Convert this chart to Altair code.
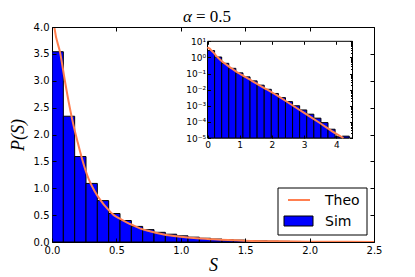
import altair as alt
import pandas as pd

# ---------------- data ----------------
main_bin_width = 0.088
main_hist = [3.54, 2.34, 1.59, 1.09, 0.77, 0.53, 0.40, 0.29, 0.23, 0.18,
             0.145, 0.115, 0.09, 0.07, 0.055, 0.044, 0.035, 0.027, 0.021, 0.016,
             0.013, 0.010, 0.008, 0.006, 0.005, 0.004, 0.003, 0.0025]

inset_bin_width = 0.22
inset_hist = [2.65, 1.06, 0.43, 0.21, 0.11, 0.062, 0.035, 0.019, 0.0105, 0.0058,
              0.0032, 0.0018, 0.001, 0.00055, 0.0003, 0.00017, 0.00009, 0.000035,
              0.000012, 0.000013]

theo_S = [0.0, 0.02, 0.065, 0.1, 0.13, 0.155, 0.2, 0.233, 0.285, 0.33, 0.376,
          0.43, 0.48, 0.53, 0.583, 0.64, 0.687, 0.76, 0.85, 0.92, 1.0, 1.1,
          1.25, 1.5, 1.75, 2.0, 2.5, 3.0, 3.5, 4.0, 4.22]
theo_P = [4.4, 3.97, 3.5, 3.0, 2.6, 2.3, 1.85, 1.55, 1.17, 0.95, 0.78,
          0.62, 0.5, 0.43, 0.36, 0.3, 0.25, 0.2, 0.15, 0.12, 0.097, 0.073,
          0.05, 0.025, 0.013, 0.0068, 0.0016, 0.00036, 0.000082, 0.000018, 0.00001]

legend_labels = ["Theo", "Sim"]
main_x_ticks = [0.0, 0.5, 1.0, 1.5, 2.0, 2.5]
main_y_ticks = [0.0, 0.5, 1.0, 1.5, 2.0, 2.5, 3.0, 3.5, 4.0]
inset_x_ticks = [0, 1, 2, 3, 4]
inset_y_ticks = [1e1, 1e0, 1e-1, 1e-2, 1e-3, 1e-4, 1e-5]
inset_y_minor = [k * 10.0 ** e for e in range(-5, 1) for k in range(2, 10)]
title_symbol = "α"
title_rest = "= 0.5"

# ---------------- tables ----------------
main_df = pd.DataFrame({
    "x0": [i * main_bin_width for i in range(len(main_hist))],
    "x1": [(i + 1) * main_bin_width for i in range(len(main_hist))],
    "p": main_hist,
})
inset_df = pd.DataFrame({
    "x0": [i * inset_bin_width for i in range(len(inset_hist))],
    "x1": [(i + 1) * inset_bin_width for i in range(len(inset_hist))],
    "p": inset_hist,
})
theo_df = pd.DataFrame({"S": theo_S, "P": theo_P})
legend_df = pd.DataFrame({"label": legend_labels})
one_df = pd.DataFrame({"a": [0]})
title_a_df = pd.DataFrame({"t": [title_symbol]})
title_b_df = pd.DataFrame({"t": [title_rest]})

# ---------------- geometry ----------------
W, H = 322, 215
T = 4     # main tick length (inward)
TI = 3    # inset tick length
IN_L, IN_R, IN_T, IN_B = 155.5, 300.5, 14.3, 111.0

BLUE = "#0000ff"
CORAL = "#ff7f50"
SERIF = "Liberation Serif"

xs_main = alt.Scale(domain=[0, 2.5], nice=False, zero=False)
ys_main = alt.Scale(domain=[0, 4], nice=False, zero=False)
xs_in = alt.Scale(domain=[0, 4.5], range=[IN_L, IN_R], nice=False, zero=False)
ys_in = alt.Scale(type="log", domain=[1e-5, 10], range=[IN_B, IN_T], nice=False)

common = dict(domain=False, grid=False, zindex=1, tickColor="black",
              labelColor="black", labelFont="DejaVu Sans",
              labelFlush=False, labelOverlap=False, labelBound=False)

ax_main_bottom = alt.Axis(orient="bottom", offset=-T, tickSize=T, values=main_x_ticks,
                          format=".1f", labelFontSize=10, labelPadding=3,
                          title="S", titleFont=SERIF, titleFontStyle="italic",
                          titleFontWeight="normal", titleFontSize=18, titlePadding=1,
                          titleColor="black", **common)
ax_main_left = alt.Axis(orient="left", offset=-T, tickSize=T, values=main_y_ticks,
                        format=".1f", labelFontSize=10, labelPadding=3,
                        title="P(S)", titleFont=SERIF, titleFontStyle="italic",
                        titleFontWeight="normal", titleFontSize=18, titlePadding=6,
                        titleColor="black", **common)
ax_main_top = alt.Axis(orient="top", offset=-T, tickSize=T, values=main_x_ticks,
                       labels=False, title=None, **common)
ax_main_right = alt.Axis(orient="right", offset=-T, tickSize=T, values=main_y_ticks,
                         labels=False, title=None, **common)

exp_labels = "['10\u207b\u2075','10\u207b\u2074','10\u207b\u00b3','10\u207b\u00b2','10\u207b\u00b9','10\u2070','10\u00b9'][round(log(datum.value)/LN10)+5]"

ax_in_bottom = alt.Axis(orient="bottom", offset=IN_B - H - TI, tickSize=TI,
                        values=inset_x_ticks, format="d", labelFontSize=9,
                        labelPadding=2, title=None, **common)
ax_in_left = alt.Axis(orient="left", offset=-(IN_L + TI), tickSize=TI,
                      values=inset_y_ticks, labelExpr=exp_labels, labelFontSize=9,
                      labelPadding=2, title=None, **common)
ax_in_top = alt.Axis(orient="top", offset=-(IN_T + TI), tickSize=TI,
                     values=inset_x_ticks, labels=False, title=None, **common)
ax_in_right = alt.Axis(orient="right", offset=IN_R - W - TI, tickSize=TI,
                       values=inset_y_ticks, labels=False, title=None, **common)
ax_in_right_minor = alt.Axis(orient="right", offset=IN_R - W - 2, tickSize=2,
                             values=inset_y_minor, labels=False, title=None, **common)

# ---------------- main plot ----------------
main_bars = alt.Chart(main_df).mark_rect(fill=BLUE, stroke="black", strokeWidth=1, clip=True).encode(
    x=alt.X("x0:Q", scale=xs_main, axis=ax_main_bottom),
    x2="x1:Q",
    y=alt.Y("p:Q", scale=ys_main, axis=ax_main_left),
    y2=alt.datum(0),
)
main_line = alt.Chart(theo_df).mark_line(color=CORAL, strokeWidth=2, clip=True, interpolate="monotone").encode(
    x=alt.X("S:Q", scale=xs_main, axis=ax_main_top),
    y=alt.Y("P:Q", scale=ys_main, axis=ax_main_right),
)

# ---------------- inset ----------------
inset_frame = alt.Chart(one_df).mark_rect(fill="white", stroke="black", strokeWidth=1).encode(
    x=alt.X(datum=0, type="quantitative", scale=xs_in, axis=None),
    x2=alt.datum(4.5),
    y=alt.Y(datum=1e-5, type="quantitative", scale=ys_in, axis=None),
    y2=alt.datum(10),
)
inset_bars = alt.Chart(inset_df).mark_rect(fill=BLUE, stroke="black", strokeWidth=1).encode(
    x=alt.X("x0:Q", scale=xs_in, axis=ax_in_bottom),
    x2="x1:Q",
    y=alt.Y("p:Q", scale=ys_in, axis=ax_in_left),
    y2=alt.datum(1e-5),
)
inset_line = alt.Chart(theo_df).mark_line(color=CORAL, strokeWidth=2, interpolate="monotone").encode(
    x=alt.X("S:Q", scale=xs_in, axis=ax_in_top),
    y=alt.Y("P:Q", scale=ys_in, axis=ax_in_right),
)
inset_minor = alt.Chart(theo_df).mark_line(opacity=0).encode(
    x=alt.X("S:Q", scale=xs_in, axis=None),
    y=alt.Y("P:Q", scale=ys_in, axis=ax_in_right_minor),
)

# ---------------- legend ----------------
leg_box = alt.Chart(one_df).mark_rect(fill="white", stroke="black", strokeWidth=1).encode(
    x=alt.value(226), x2=alt.value(315), y=alt.value(161), y2=alt.value(208))
leg_line = alt.Chart(one_df).mark_rule(color=CORAL, strokeWidth=2).encode(
    x=alt.value(236), x2=alt.value(258), y=alt.value(173))
leg_swatch = alt.Chart(one_df).mark_rect(fill=BLUE, stroke="black", strokeWidth=1).encode(
    x=alt.value(232), x2=alt.value(261), y=alt.value(189), y2=alt.value(199))
leg_text = alt.Chart(legend_df).mark_text(align="left", baseline="middle", fontSize=14,
                                          font="DejaVu Sans", color="black").encode(
    x=alt.value(273),
    y=alt.Y("label:N", scale=alt.Scale(type="point", domain=legend_labels, range=[174, 195], padding=0), axis=None),
    text="label:N",
)

# ---------------- title (as text above the frame) ----------------
title_a = alt.Chart(title_a_df).mark_text(align="right", baseline="alphabetic", fontSize=17,
                                          font=SERIF, fontStyle="italic", color="black").encode(
    x=alt.value(140), y=alt.value(-5), text="t:N")
title_b = alt.Chart(title_b_df).mark_text(align="left", baseline="alphabetic", fontSize=17,
                                          font=SERIF, color="black").encode(
    x=alt.value(144), y=alt.value(-5), text="t:N")

chart = alt.layer(
    main_bars, main_line, inset_frame, inset_bars, inset_line, inset_minor,
    leg_box, leg_line, leg_swatch, leg_text, title_a, title_b,
).resolve_scale(x="independent", y="independent").properties(
    width=W, height=H,
    autosize=alt.AutoSizeParams(type="none"),
    padding={"left": 44, "top": 19, "right": 33, "bottom": 35},
    background="white",
).configure_view(stroke="black", strokeWidth=1)

chart.save("out.html", embed_options={"renderer": "svg", "actions": False})
